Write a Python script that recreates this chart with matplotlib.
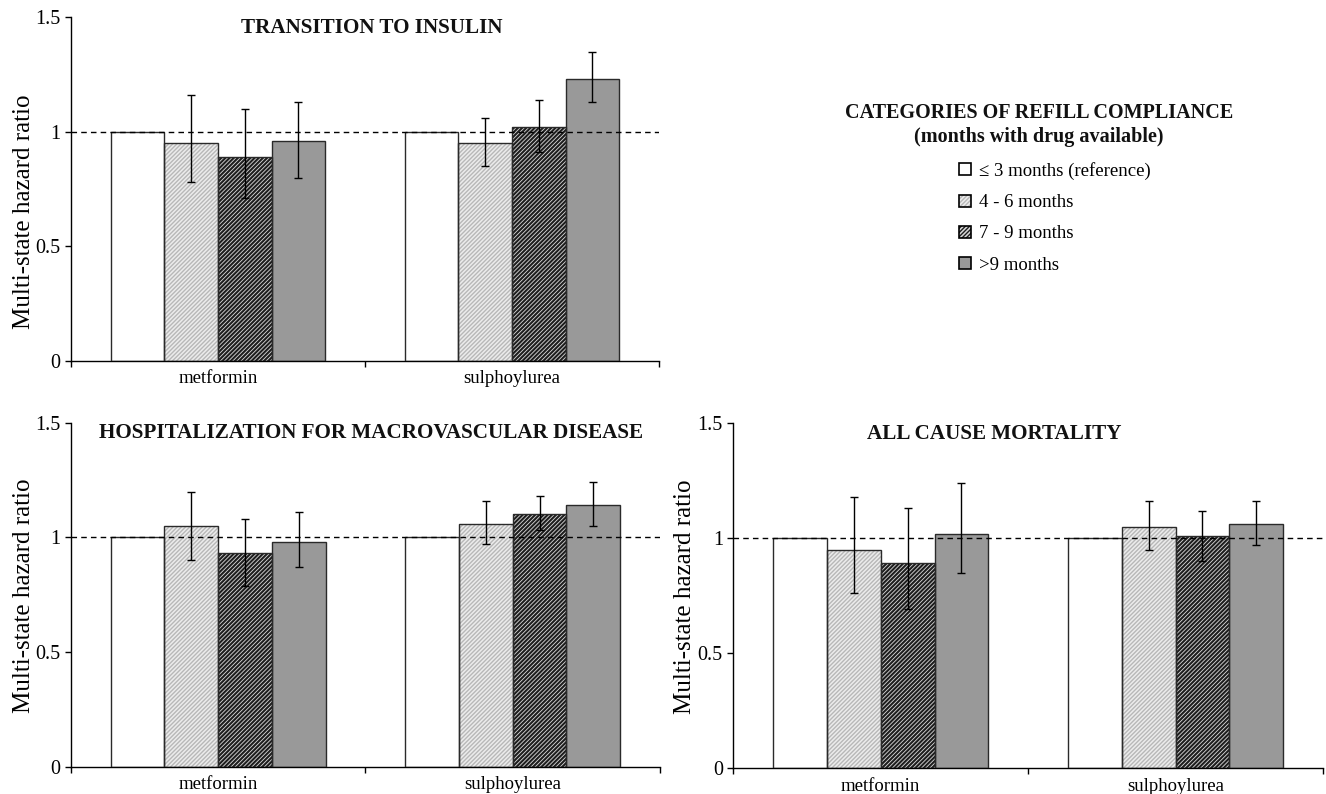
import numpy as np
import matplotlib
matplotlib.use('Agg')
import matplotlib.pyplot as plt
from matplotlib.patches import Patch
from matplotlib.legend_handler import HandlerTuple

plt.rcParams['font.family'] = ['Liberation Serif', 'DejaVu Serif']

# drugs on the x axis and compliance groups (one bar each)
categories = ['metformin', 'sulphoylurea']
groups = ['\u2264 3 months (reference)', '4 - 6 months', '7 - 9 months', '>9 months']

# hazard ratios, rows = compliance group, columns = drug
insulin_hr = [[1.00, 1.00], [0.95, 0.95], [0.89, 1.02], [0.96, 1.23]]
insulin_lo = [[np.nan, np.nan], [0.78, 0.85], [0.71, 0.91], [0.80, 1.13]]
insulin_hi = [[np.nan, np.nan], [1.16, 1.06], [1.10, 1.14], [1.13, 1.35]]

macro_hr = [[1.00, 1.00], [1.05, 1.06], [0.93, 1.10], [0.98, 1.14]]
macro_lo = [[np.nan, np.nan], [0.90, 0.97], [0.79, 1.03], [0.87, 1.05]]
macro_hi = [[np.nan, np.nan], [1.20, 1.16], [1.08, 1.18], [1.11, 1.24]]

mort_hr = [[1.00, 1.00], [0.95, 1.05], [0.89, 1.01], [1.02, 1.06]]
mort_lo = [[np.nan, np.nan], [0.76, 0.95], [0.69, 0.90], [0.85, 0.97]]
mort_hi = [[np.nan, np.nan], [1.18, 1.16], [1.13, 1.12], [1.24, 1.16]]

fills = ['white', '#ececec', '#d8d8d8', '#999999']
hatches = [None, '////////', '////////', None]
hatch_cols = ['white', '#b8b8b8', '#1e1e1e', '#999999']
hatch_lw = [1.0, 1.0, 1.5, 1.0]
width = 0.1825


def draw_panel(ax, title, hr, lo, hi, title_x, ylabel_xy):
  x = np.arange(len(categories))
  for k in range(len(groups)):
    pos = x + (k - 1.5) * width
    with plt.rc_context({'hatch.linewidth': hatch_lw[k]}):
      ax.bar(pos, hr[k], width, color=fills[k], hatch=hatches[k],
             edgecolor=hatch_cols[k], linewidth=0, zorder=2)
    ax.bar(pos, hr[k], width, fill=False, edgecolor='#2a2a2a', linewidth=1, zorder=3)
    if k > 0:
      h = np.array(hr[k])
      err = [h - np.array(lo[k]), np.array(hi[k]) - h]
      ax.errorbar(pos, h, yerr=err, fmt='none', ecolor='black', elinewidth=1,
                  capsize=2.6, capthick=1, zorder=5)
  ax.axhline(1, color='black', linestyle=(0, (4, 3)), linewidth=1, zorder=4)

  ax.set_xlim(-0.5, 1.5)
  ax.set_ylim(0, 1.5)
  ax.set_yticks([0, 0.5, 1, 1.5])
  ax.set_yticklabels(['0', '0.5', '1', '1.5'], fontsize=14.5)
  ax.set_xticks([-0.5, 0.5, 1.5])
  ax.set_xticklabels(['', '', ''])
  ax.set_xticks(x, minor=True)
  ax.set_xticklabels(categories, minor=True, fontsize=13.5)
  ax.tick_params(axis='x', which='minor', length=0, pad=7)
  ax.tick_params(axis='both', which='major', length=4, width=1, direction='out')
  for s in ['top', 'right']:
    ax.spines[s].set_visible(False)
  for s in ['left', 'bottom']:
    ax.spines[s].set_linewidth(1)

  ax.set_ylabel('Multi-state hazard ratio', fontsize=18)
  ax.yaxis.set_label_coords(*ylabel_xy)
  ax.text(title_x, 0.97, title, transform=ax.transAxes, ha='center', va='center',
          fontsize=15.2, fontweight='bold', color='#111111')


fig = plt.figure(figsize=(13.26, 7.94), dpi=100)
ax1 = fig.add_axes([0.0535, 0.5457, 0.4435, 0.4325])
ax2 = fig.add_axes([0.0535, 0.0344, 0.4442, 0.4332])
ax3 = fig.add_axes([0.553, 0.0327, 0.4447, 0.4342])

draw_panel(ax1, 'TRANSITION TO INSULIN', insulin_hr, insulin_lo, insulin_hi, 0.512, (-0.061, 0.434))
draw_panel(ax2, 'HOSPITALIZATION FOR MACROVASCULAR DISEASE', macro_hr, macro_lo, macro_hi, 0.51, (-0.061, 0.496))
draw_panel(ax3, 'ALL CAUSE MORTALITY', mort_hr, mort_lo, mort_hi, 0.442, (-0.063, 0.4975))

# legend heading
fig.text(0.7836, 1 - 125 / 794, 'CATEGORIES OF REFILL COMPLIANCE\n(months with drug available)',
         ha='center', va='center', fontsize=14.5, fontweight='bold', color='#111111',
         linespacing=1.3, multialignment='center')

# legend: hatched square with a black outline on top
handles = []
for k in range(len(groups)):
  inner = Patch(facecolor=fills[k], hatch=hatches[k], edgecolor=hatch_cols[k], linewidth=0)
  outer = Patch(fill=False, edgecolor='black', linewidth=1.2)
  handles.append((inner, outer))

leg = fig.legend(handles, groups, loc='upper left', bbox_to_anchor=(959 / 1326, 1 - 162 / 794),
                 frameon=False, fontsize=13.5, handlelength=0.62, handleheight=0.62,
                 handletextpad=0.45, labelspacing=0.76, borderpad=0, borderaxespad=0,
                 handler_map={tuple: HandlerTuple(ndivide=1, pad=0)})

fig.savefig('out.png', dpi=100)
